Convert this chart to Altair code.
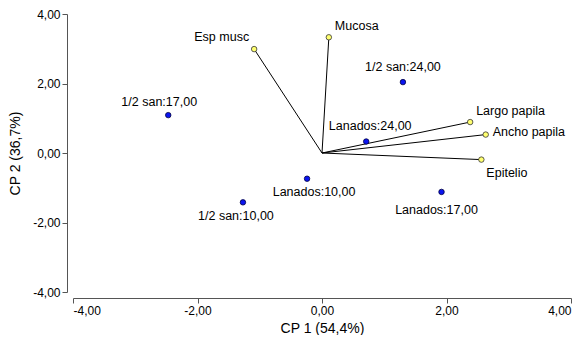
import altair as alt
import pandas as pd

obs_names = ["1/2 san:17,00", "1/2 san:24,00", "Lanados:24,00", "1/2 san:10,00", "Lanados:10,00", "Lanados:17,00"]
obs_x = [-2.47, 1.30, 0.71, -1.27, -0.24, 1.92]
obs_y = [1.09, 2.04, 0.33, -1.42, -0.74, -1.12]

var_names = ["Esp musc", "Mucosa", "Largo papila", "Ancho papila", "Epitelio"]
var_x = [-1.09, 0.11, 2.38, 2.63, 2.56]
var_y = [2.99, 3.33, 0.89, 0.53, -0.19]

x_title = "CP 1 (54,4%)"
y_title = "CP 2 (36,7%)"
ticks = [-4, -2, 0, 2, 4]

obs = pd.DataFrame({"name": obs_names, "x": obs_x, "y": obs_y})
var = pd.DataFrame({"name": var_names, "x": var_x, "y": var_y, "x0": [0.0] * len(var_names), "y0": [0.0] * len(var_names)})

FONT = "Liberation Sans"
lab = "replace(replace(format(datum.value, '.2f'), '.', ','), '\u2212', '-')"

xs = alt.Scale(domain=[-4, 4], nice=False, zero=False)
ys = alt.Scale(domain=[-4, 4], nice=False, zero=False)
common = dict(grid=False, offset=6, domainColor="#555555", tickColor="#555555", tickSize=5,
              labelFontSize=12, titleFontSize=14, titleFontWeight="normal", labelColor="black",
              titleColor="black", labelFont=FONT, titleFont=FONT, labelPadding=2)
xax = alt.Axis(values=ticks, labelExpr=lab, title=x_title, titlePadding=5, **common)
yax = alt.Axis(values=ticks, labelExpr=lab, title=y_title, titlePadding=10, **common)

X = alt.X("x:Q", scale=xs, axis=xax)
Y = alt.Y("y:Q", scale=ys, axis=yax)

lines = alt.Chart(var).mark_rule(color="black", strokeWidth=1).encode(
    x=X, y=Y, x2="x0:Q", y2="y0:Q")

vpts = alt.Chart(var).mark_point(filled=True, fill="#ffff70", stroke="#333333", strokeWidth=0.8,
                                 size=30, opacity=1).encode(x=X, y=Y)
opts = alt.Chart(obs).mark_point(filled=True, fill="#0a14f0", stroke="#000040", strokeWidth=0.8,
                                 size=30, opacity=1).encode(x=X, y=Y)

def txt(df, name, **kw):
    return alt.Chart(df).transform_filter(
        alt.FieldEqualPredicate(field="name", equal=name)
    ).mark_text(font=FONT, fontSize=12.5, color="black", **kw).encode(x=X, y=Y, text="name:N")

labels = [
    txt(obs, "1/2 san:17,00", align="center", dx=-9, dy=-13),
    txt(obs, "1/2 san:24,00", align="center", dx=0, dy=-15),
    txt(obs, "Lanados:24,00", align="center", dx=4, dy=-16),
    txt(obs, "1/2 san:10,00", align="center", dx=-7, dy=14),
    txt(obs, "Lanados:10,00", align="center", dx=7, dy=13),
    txt(obs, "Lanados:17,00", align="center", dx=-5, dy=18),
    txt(var, "Esp musc", align="right", dx=-5, dy=-12),
    txt(var, "Mucosa", align="left", dx=6, dy=-11),
    txt(var, "Largo papila", align="left", dx=6, dy=-11),
    txt(var, "Ancho papila", align="left", dx=7, dy=-3),
    txt(var, "Epitelio", align="left", dx=5, dy=13),
]

chart = alt.layer(lines, vpts, opts, *labels).properties(
    width=498, height=278, background="white",
    padding={"top": 0, "left": 0, "right": 0, "bottom": 0}
).configure_view(stroke=None)

chart.save("out.html", embed_options={"renderer": "svg", "actions": False})
